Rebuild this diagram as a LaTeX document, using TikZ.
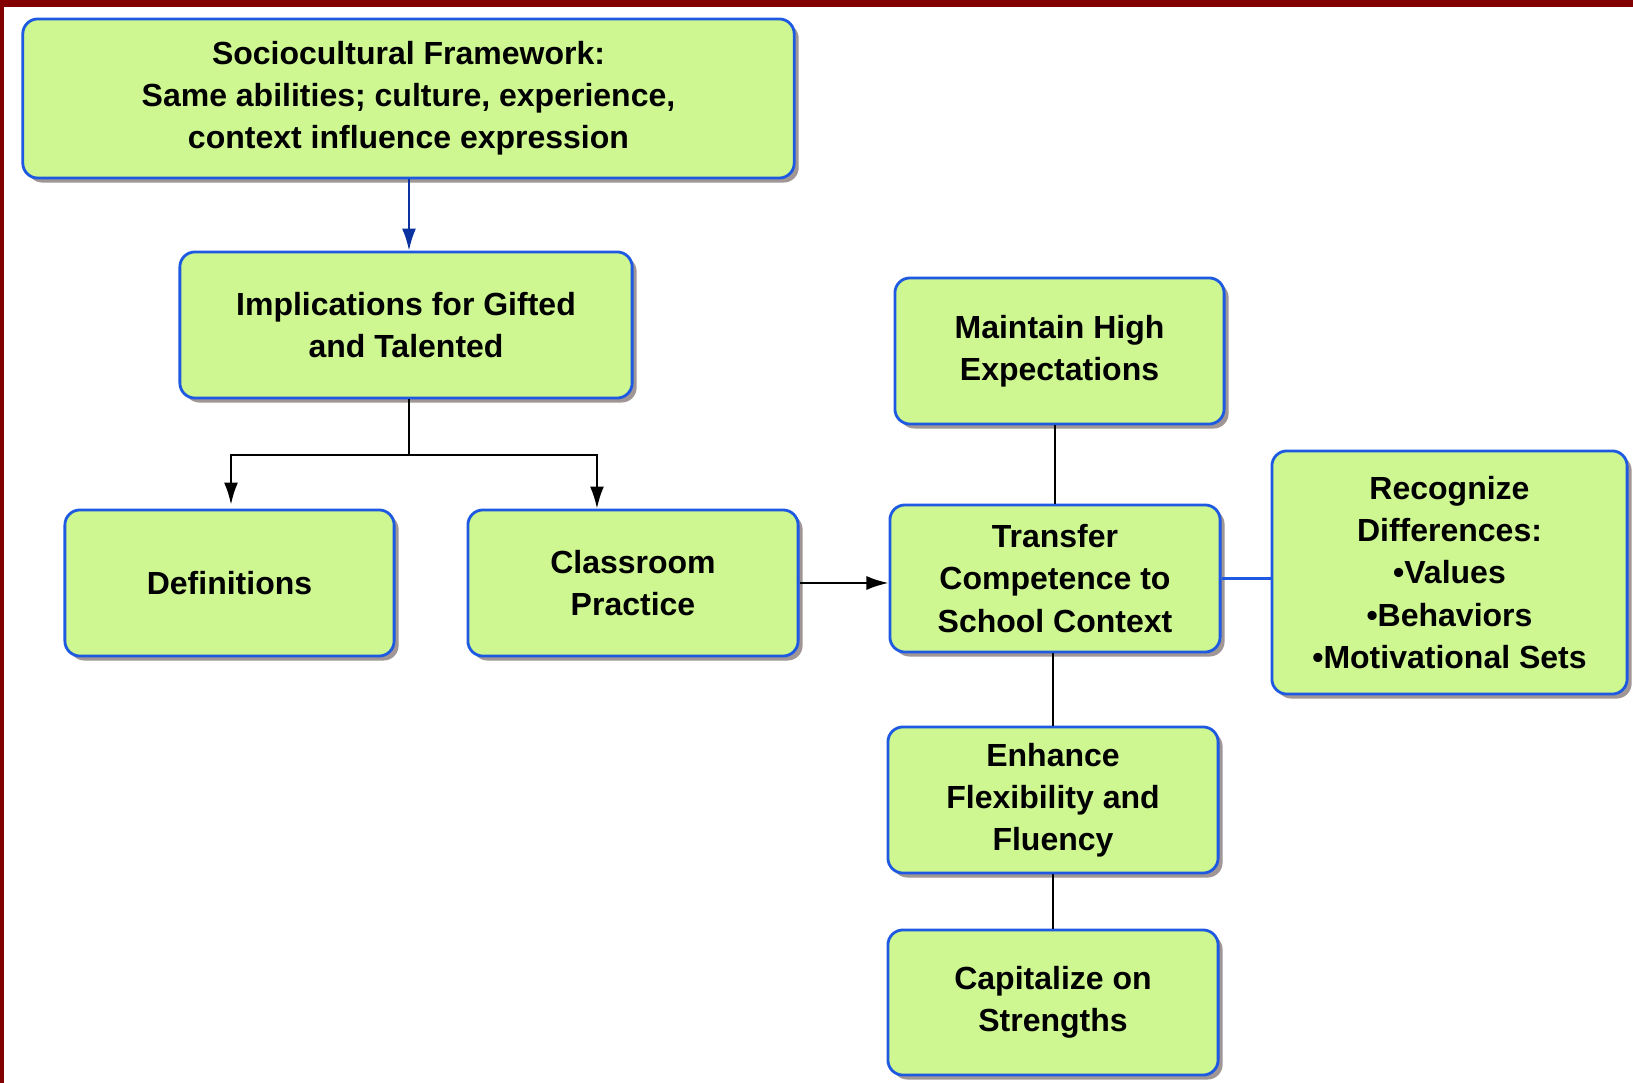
\documentclass[tikz,border=0pt]{standalone}
\usepackage{fontspec}
\setmainfont{Liberation Sans}
\usetikzlibrary{positioning, shapes, arrows.meta, shadows}

\definecolor{boxfill}{RGB}{206,246,145}
\definecolor{boxline}{RGB}{30,90,225}
\definecolor{shade}{RGB}{160,150,150}
\definecolor{darklink}{RGB}{10,50,160}
\definecolor{framered}{RGB}{130,0,0}

\tikzset{
  block/.style={draw=boxline, line width=0.8pt, fill=boxfill, rounded corners=0.15cm,
    align=center, inner sep=0pt, font=\fontsize{9.1}{12}\selectfont\bfseries,
    drop shadow={shadow xshift=0.045cm, shadow yshift=-0.045cm, fill=shade, opacity=1}},
  link/.style={line width=0.6pt, -{Latex[length=0.22cm, width=0.14cm]}},
  plain/.style={line width=0.6pt}
}

\begin{document}
\begin{tikzpicture}[x=0.01cm, y=-0.01cm]
  \useasboundingbox (0,0) rectangle (1633,1083);
  \fill[white] (0,0) rectangle (1633,1083);
  \fill[framered] (0,0) rectangle (1633,7);
  \fill[framered] (0,0) rectangle (4,1083);

  \node[block, minimum width=7.71cm, minimum height=1.59cm] (frame) at (408.5,98.5)
    {Sociocultural Framework:\\Same abilities; culture, experience,\\context influence expression};
  \node[block, minimum width=4.52cm, minimum height=1.46cm] (impl) at (406,325)
    {Implications for Gifted\\and Talented};
  \node[block, minimum width=3.29cm, minimum height=1.46cm] (defs) at (229.5,583)
    {Definitions};
  \node[block, minimum width=3.30cm, minimum height=1.46cm] (practice) at (633,583)
    {Classroom\\Practice};
  \node[block, minimum width=3.29cm, minimum height=1.46cm] (expect) at (1059.5,351)
    {Maintain High\\Expectations};
  \node[block, minimum width=3.30cm, minimum height=1.47cm] (transfer) at (1055,578.5)
    {Transfer\\Competence to\\School Context};
  \node[block, minimum width=3.55cm, minimum height=2.43cm] (recognize) at (1449.5,572.5)
    {Recognize\\Differences:\\\textbullet Values\\\textbullet Behaviors\\\textbullet Motivational Sets};
  \node[block, minimum width=3.30cm, minimum height=1.46cm] (enhance) at (1053,800)
    {Enhance\\Flexibility and\\Fluency};
  \node[block, minimum width=3.30cm, minimum height=1.45cm] (capital) at (1053,1002.5)
    {Capitalize on\\Strengths};

  % tree on the left
  \coordinate (split) at (409,455);
  \draw[link, darklink] (frame.south -| split) -- (impl.north -| split);
  \draw[plain] (impl.south -| split) -- (split);
  \draw[link] (split) -| ([xshift=0.015cm, yshift=0.04cm]defs.north);
  \draw[link] (split) -| ([xshift=-0.36cm]practice.north);
  \draw[link] (practice.east) -- (transfer.west |- practice.east);

  % column on the right
  \draw[plain] (transfer.north) -- (transfer.north |- expect.south);
  \draw[plain, boxline] (transfer.east) -- (recognize.west |- transfer.east);
  \draw[plain] (enhance.north) -- (enhance.north |- transfer.south);
  \draw[plain] (capital.north) -- (enhance.south);
\end{tikzpicture}
\end{document}
